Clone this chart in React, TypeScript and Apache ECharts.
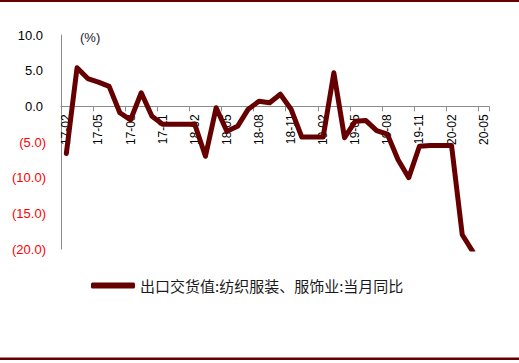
import React, { useEffect, useRef } from "react";
import * as echarts from "echarts";

const categories: string[] = [
  "17-02", "17-03", "17-04", "17-05", "17-06", "17-07", "17-08", "17-09", "17-10", "17-11", "17-12",
  "18-01", "18-02", "18-03", "18-04", "18-05", "18-06", "18-07", "18-08", "18-09", "18-10", "18-11", "18-12",
  "19-01", "19-02", "19-03", "19-04", "19-05", "19-06", "19-07", "19-08", "19-09", "19-10", "19-11", "19-12",
  "20-01", "20-02", "20-03", "20-04", "20-05",
];

const exportYoY: (number | null)[] = [
  -6.6, 5.4, 3.9, 3.4, 2.8, -0.9, -1.9, 1.9, -1.4, -2.5, -2.5,
  -2.5, -2.5, -7.0, -0.2, -3.5, -2.8, -0.4, 0.7, 0.5, 1.7, -0.4, -4.3,
  -4.3, -4.3, 4.7, -4.4, -2.1, -2.0, -3.4, -3.9, -7.5, -10.0, -5.6, -5.5,
  -5.5, -5.5, -18.0, -20.4, null,
];

const yMin = -20;
const yMax = 10;
const yStep = 5;

const seriesName = "出口交货值:纺织服装、服饰业:当月同比";
const unitLabel = "(%)";

export default function App() {
  const ref = useRef<HTMLDivElement>(null);
  useEffect(() => {
    if (!ref.current) return;
    const chart = echarts.init(ref.current, undefined, { renderer: "svg" });
    const lineColor = "#660000";
    const gridTop = 35;
    const gridBottom = 114;
    const gridHeight = 363 - gridTop - gridBottom;
    // place category axis at the zero line
    const zeroOffset = -((0 - yMin) / (yMax - yMin)) * gridHeight;
    chart.setOption({
      animation: false,
      backgroundColor: "#ffffff",
      grid: { left: 61, right: 30, top: gridTop, bottom: gridBottom, containLabel: false },
      legend: {
        show: true,
        left: 91,
        top: 278,
        padding: 0,
        icon: "roundRect",
        itemWidth: 44,
        itemHeight: 6,
        textStyle: {
          fontFamily: "Noto Sans CJK SC",
          fontSize: 15,
          color: "#1a1a1a",
        },
        data: [{ name: seriesName, itemStyle: { color: lineColor } }],
      },
      xAxis: {
        type: "category",
        data: categories,
        boundaryGap: true,
        position: "bottom",
        offset: zeroOffset,
        axisLine: { show: true, onZero: false, lineStyle: { color: "#8c8c8c", width: 1 } },
        axisTick: { show: true, interval: 2, length: 5, lineStyle: { color: "#8c8c8c" } },
        axisLabel: {
          interval: 2,
          rotate: 90,
          margin: 8,
          fontFamily: "Liberation Sans",
          fontSize: 12,
          color: "#000000",
        },
        splitLine: { show: false },
      },
      yAxis: {
        type: "value",
        min: yMin,
        max: yMax,
        interval: yStep,
        axisLine: { show: true, lineStyle: { color: "#8c8c8c", width: 1 } },
        axisTick: { show: false },
        splitLine: { show: false },
        axisLabel: {
          margin: 15,
          fontFamily: "Liberation Sans",
          fontSize: 13,
          formatter: (v: number) =>
            v >= 0 ? `{p|${v.toFixed(1)}}` : `{n|(${Math.abs(v).toFixed(1)})}`,
          rich: {
            p: { color: "#000000", fontFamily: "Liberation Sans", fontSize: 13, padding: [0, 3, 0, 0] },
            n: { color: "#ff0000", fontFamily: "Liberation Sans", fontSize: 13 },
          },
        },
      },
      series: [
        {
          name: seriesName,
          type: "line",
          data: exportYoY,
          symbol: "none",
          clip: true,
          lineStyle: { color: lineColor, width: 5, join: "round", cap: "round" },
          itemStyle: { color: lineColor },
        },
      ],
      graphic: [
        {
          type: "text",
          left: 80,
          top: 31,
          style: {
            text: unitLabel,
            fontFamily: "Liberation Sans",
            fontSize: 13,
            fill: "#1a1a2e",
          },
        },
        {
          type: "rect",
          shape: { x: 0, y: 0, width: 519, height: 2 },
          style: { fill: lineColor },
        },
        {
          type: "rect",
          shape: { x: 0, y: 357.5, width: 519, height: 2.5 },
          style: { fill: lineColor },
        },
      ],
    });
    return () => chart.dispose();
  }, []);
  return (
    <div
      ref={ref}
      style={{ position: "fixed", left: 0, top: 0, width: 519, height: 363 }}
    />
  );
}
